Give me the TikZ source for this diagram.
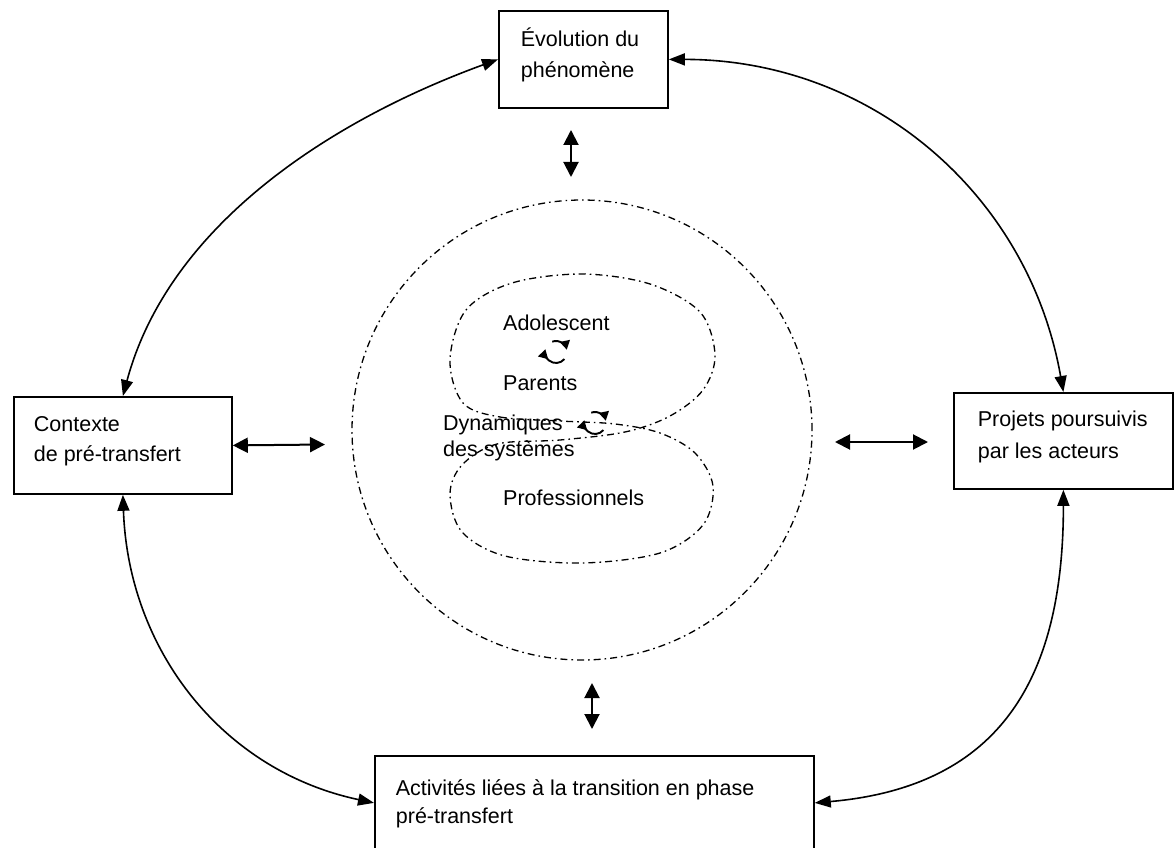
\documentclass[tikz,border=0pt]{standalone}
\usepackage{fontspec}
\setmainfont{Liberation Sans}
\usetikzlibrary{arrows.meta}
\newcommand\bxc[6]{\parbox[t][#2][t]{#1}{\vspace{0pt}\fontsize{21.5}{#5}\selectfont\leftskip=#3\relax\noindent\rule{0pt}{#4}#6}}
\begin{document}
\begin{tikzpicture}[x=1pt,y=1pt,
  box/.style={draw, line width=1.8pt, inner sep=0pt},
  dd/.style={line width=1.3pt, dash pattern=on 7pt off 4pt on 1.6pt off 4pt},
  conn/.style={line width=1.6pt, {Triangle[length=16pt,width=12pt]}-{Triangle[length=16pt,width=12pt]}},
  dbl/.style={line width=2pt, {Triangle[length=15pt,width=15pt]}-{Triangle[length=15pt,width=15pt]}},
  lbl/.style={inner sep=0pt, font=\fontsize{21.5}{26}\selectfont, align=left},
  cyc/.style={line width=1.9pt, -{Triangle[length=9pt,width=10pt]}}
]
\fill[white] (0,0) rectangle (1176,-848);
\useasboundingbox (0,0) rectangle (1176,-848);

% boxes
\node[box, anchor=north west] (tb) at (498,-10) {\bxc{169pt}{97pt}{22pt}{36pt}{31pt}{Évolution du\\phénomène}};
\node[box, anchor=north west] (lb) at (13,-396) {\bxc{218pt}{97pt}{20pt}{35pt}{30pt}{Contexte\\de pré-transfert}};
\node[box, anchor=north west] (rb) at (953,-392) {\bxc{219pt}{96pt}{24pt}{34pt}{32pt}{Projets poursuivis\\par les acteurs}};
\node[box, anchor=north west] (bb) at (374,-755) {\bxc{439pt}{94pt}{21pt}{40pt}{28pt}{Activités liées à la transition en phase\\pré-transfert}};

% outer curved connectors
\draw[conn] (lb.north) to[out=75, in=200, looseness=0.9] (tb.west);
\draw[conn] (tb.east) to[out=0, in=100] (rb.north);
\draw[conn] (lb.south) to[out=-88, in=168] (bb.west);
\draw[conn] (rb.south) to[out=-90, in=5, looseness=1.2] (bb.east);

% straight double arrows
\coordinate (la) at (325,-444.5);
\coordinate (ra1) at (835,-442);
\coordinate (ra2) at (928,-442);
\coordinate (ta1) at (571,-130);
\coordinate (ta2) at (571,-177);
\coordinate (ba1) at (592,-683);
\coordinate (ba2) at (592,-729);
\draw[dbl] (lb.east) -- (la);
\draw[dbl] (ra1) -- (ra2);
\draw[dbl] (ta1) -- (ta2);
\draw[dbl] (ba1) -- (ba2);

% outer dash-dot circle
\coordinate (oc) at (582,-430);
\draw[dd] (oc) circle[radius=230];

% inner figure-eight
\draw[dd] plot[smooth cycle, tension=0.55] coordinates {
  (463,-403) (500,-417) (560,-421) (615,-424) (660,-433) (695,-453) (713,-486)
  (703,-525) (660,-553) (582,-563) (505,-556) (462,-532) (450,-494) (462,-465)
  (497,-444) (560,-440) (625,-432) (670,-416) (703,-390) (715,-355) (700,-312)
  (650,-284) (582,-274) (512,-283) (466,-310) (450,-360)};

% inner labels
\node[lbl, anchor=base west] (ado) at (503,-330) {Adolescent};
\node[lbl, anchor=base west] (par) at (503,-390) {Parents};
\node[lbl, anchor=base west] (dyn) at (443,-456) {Dynamiques\\des systèmes};
\node[lbl, anchor=base west] (pro) at (503,-505) {Professionnels};

% cycle symbols
\coordinate (c1) at (556,-352);
\coordinate (c2) at (595,-423);
\draw[cyc] ([shift={(-40:11)}]c1) arc[start angle=-40, end angle=-195, radius=11];
\draw[cyc] ([shift={(110:11)}]c1) arc[start angle=110, end angle=12, radius=11];
\draw[cyc] ([shift={(-40:11)}]c2) arc[start angle=-40, end angle=-195, radius=11];
\draw[cyc] ([shift={(110:11)}]c2) arc[start angle=110, end angle=12, radius=11];
\end{tikzpicture}
\end{document}
